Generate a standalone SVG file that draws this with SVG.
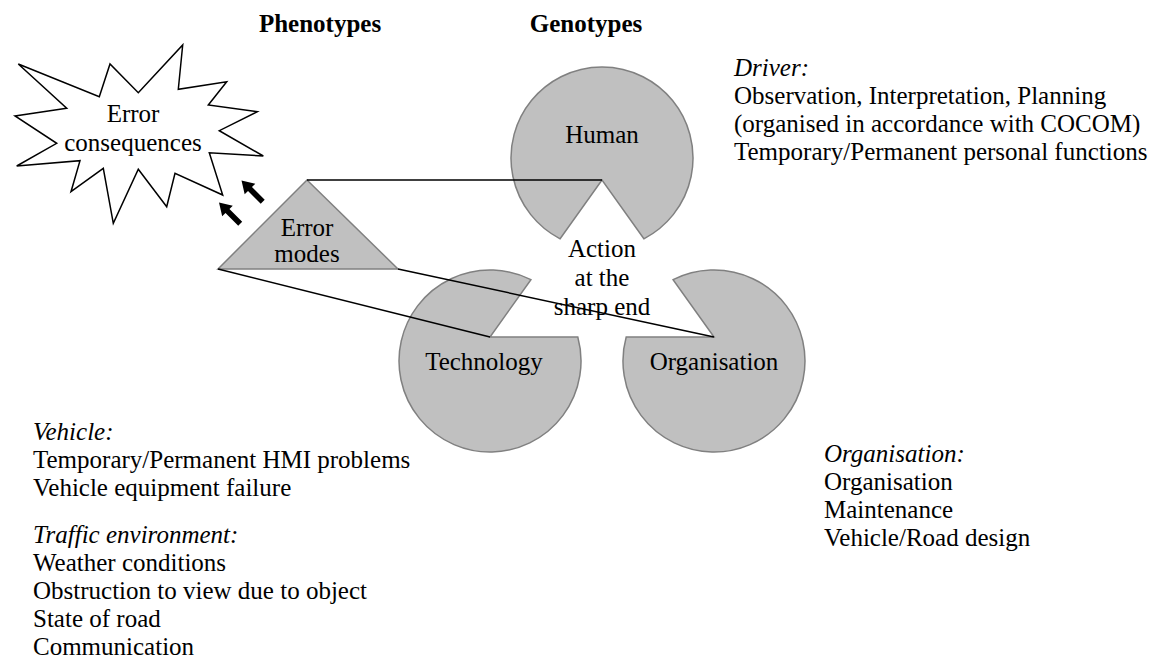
<svg xmlns="http://www.w3.org/2000/svg" xmlns:xlink="http://www.w3.org/1999/xlink" width="1156" height="659" viewBox="0 0 1156 659">
<defs>
<style>
text{font-family:"Liberation Serif","Times New Roman",serif;font-size:25px;fill:#000}
.b{font-weight:bold}
.i{font-style:italic}
.m{text-anchor:middle}
.pac{fill:#c0c0c0;stroke:#808080;stroke-width:1.5}
.conn{stroke:#000;stroke-width:1.5;fill:none}
.burst{fill:#fff;stroke:#000;stroke-width:1.5;stroke-linejoin:miter}
</style>
<polygon id="blockArrow" points="0,0 12,-7.5 12,-2.8 30,-2.8 30,2.8 12,2.8 12,7.5" fill="#000"/>
</defs>
<rect width="1156" height="659" fill="#fff"/>

<g id="headers">
<text class="b m" x="320" y="32">Phenotypes</text>
<text class="b m" x="586" y="32">Genotypes</text>
</g>

<g id="error-consequences">
<polygon class="burst" points="18.3,64 99.3,96.7 110,64 138.3,92.7 182.7,45 178.3,89.3 226.7,81.7 208.3,105 257.3,111.7 219.3,130.7 263.3,156 209.3,152.7 222.7,195 175,173.3 166.7,206.7 138.3,169.3 113.3,223.3 103.3,168.3 71,191.7 80,160.7 16.7,166 56.7,143.3 15,116 66.7,108.3"/>
<text class="m" x="133" y="122">Error</text>
<text class="m" x="133" y="151">consequences</text>
</g>

<g id="human">
<path class="pac" d="M602 180 L560.1 238.8 A91 91 0 1 1 643.9 238.8 Z"/>
<text class="m" x="602" y="143">Human</text>
</g>

<g id="technology">
<path class="pac" d="M490 337 L577.8 337 A91 91 0 1 1 530.9 279.7 Z"/>
<text class="m" x="484" y="370">Technology</text>
</g>

<g id="organisation">
<path class="pac" d="M714 337 L673.1 279.7 A91 91 0 1 1 626.2 337 Z"/>
<text class="m" x="714" y="370">Organisation</text>
</g>

<g id="error-modes">
<polygon class="pac" points="307,180 218,269 398,269"/>
<text class="m" x="307" y="236">Error</text>
<text class="m" x="307" y="262">modes</text>
</g>

<g id="action">
<text class="m" x="602" y="257">Action</text>
<text class="m" x="602" y="286">at the</text>
<text class="m" x="602" y="315">sharp end</text>
</g>

<g id="connectors">
<line class="conn" x1="307" y1="180" x2="602" y2="180"/>
<line class="conn" x1="218" y1="269" x2="490" y2="337"/>
<line class="conn" x1="398" y1="269" x2="714" y2="337"/>
<use xlink:href="#blockArrow" transform="translate(241.5,180.5) rotate(45)"/>
<use xlink:href="#blockArrow" transform="translate(219,202.5) rotate(45)"/>
</g>

<g id="driver-text">
<text class="i" x="734" y="76">Driver:</text>
<text x="734" y="104">Observation, Interpretation, Planning</text>
<text x="734" y="132">(organised in accordance with COCOM)</text>
<text x="734" y="160">Temporary/Permanent personal functions</text>
</g>

<g id="vehicle-text">
<text class="i" x="33" y="440">Vehicle:</text>
<text x="33" y="468">Temporary/Permanent HMI problems</text>
<text x="33" y="496">Vehicle equipment failure</text>
<text class="i" x="33" y="543">Traffic environment:</text>
<text x="33" y="571">Weather conditions</text>
<text x="33" y="599">Obstruction to view due to object</text>
<text x="33" y="627">State of road</text>
<text x="33" y="655">Communication</text>
</g>

<g id="organisation-text">
<text class="i" x="824" y="462">Organisation:</text>
<text x="824" y="490">Organisation</text>
<text x="824" y="518">Maintenance</text>
<text x="824" y="546">Vehicle/Road design</text>
</g>
</svg>
